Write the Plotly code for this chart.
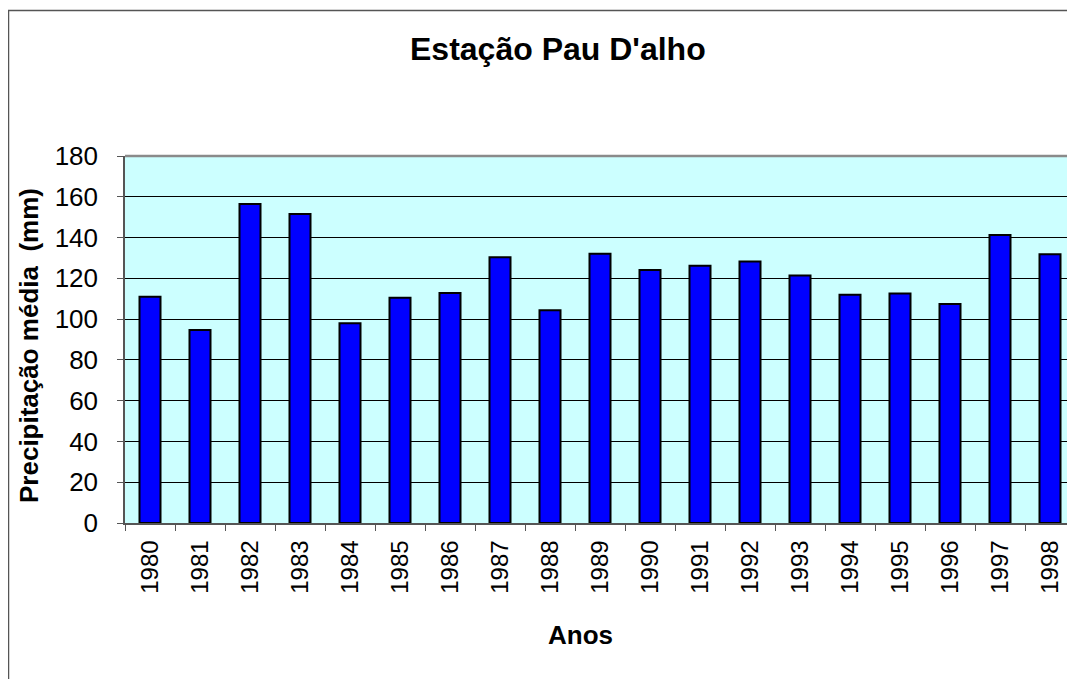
import plotly.graph_objects as go

years = ["1980", "1981", "1982", "1983", "1984", "1985", "1986", "1987", "1988", "1989",
         "1990", "1991", "1992", "1993", "1994", "1995", "1996", "1997", "1998"]
precip = [111.0, 94.6, 156.5, 151.6, 98.0, 110.5, 112.8, 130.3, 104.3, 132.0,
          124.1, 126.2, 128.3, 121.4, 111.9, 112.6, 107.4, 141.2, 131.8]
y_ticks = [0, 20, 40, 60, 80, 100, 120, 140, 160, 180]

FONT = "Liberation Sans, Arial, sans-serif"
OFF = 8  # page body margin
W, H = 1075 - OFF, 679 - OFF
L, R, T, B = 125 - OFF, 0, 156 - OFF, 156
pw, ph = W - L - R, H - T - B


def px_x(x):
    # x in screen pixels
    return (x - OFF - L) / pw


def px_y(y):
    return (H - B - (y - OFF)) / ph


fig = go.Figure()
fig.add_trace(go.Bar(
    x=years, y=precip, width=0.42,
    marker=dict(color="#0000FF", line=dict(color="#000000", width=2)),
))

fig.update_layout(
    width=W, height=H,
    margin=dict(l=L, r=R, t=T, b=B),
    paper_bgcolor="white", plot_bgcolor="#CCFFFF",
    showlegend=False,
    font=dict(family=FONT, color="black"),
)
fig.update_xaxes(
    type="category", tickangle=-90, tickfont=dict(size=24, family=FONT),
    ticks="outside", ticklen=6, tickcolor="#555", tickson="boundaries",
    showline=True, linecolor="#555", linewidth=1.5, showgrid=False,
    ticklabelstandoff=6,
)
fig.update_yaxes(
    range=[0, 180], tickvals=y_ticks, tickfont=dict(size=26, family=FONT),
    ticks="outside", ticklen=6, tickcolor="#555",
    showline=True, linecolor="#555", linewidth=1.5,
    showgrid=True, gridcolor="black", gridwidth=1, zeroline=False,
    ticklabelstandoff=14,
)

fig.add_shape(type="line", xref="paper", yref="paper", x0=0, x1=1, y0=1, y1=1,
              line=dict(color="#8a8a8a", width=2.5))
fig.add_shape(type="rect", xref="paper", yref="paper",
              x0=px_x(8.5), x1=1.2, y0=-1.0, y1=px_y(10.5),
              line=dict(color="#555", width=1.5))

fig.add_annotation(text="<b>Estação Pau D'alho</b>", xref="paper", yref="paper",
                   x=px_x(558), y=px_y(49), showarrow=False,
                   font=dict(size=32, family=FONT), xanchor="center", yanchor="middle")
fig.add_annotation(text="<b>Anos</b>", xref="paper", yref="paper",
                   x=px_x(580), y=px_y(635), showarrow=False,
                   font=dict(size=26, family=FONT), xanchor="center", yanchor="middle")
fig.add_annotation(text="<b>Precipitação média\u00a0\u00a0(mm)</b>", xref="paper", yref="paper",
                   x=px_x(29), y=px_y(346), showarrow=False, textangle=-90,
                   font=dict(size=26, family=FONT), xanchor="center", yanchor="middle")

fig.write_html("out.html")
